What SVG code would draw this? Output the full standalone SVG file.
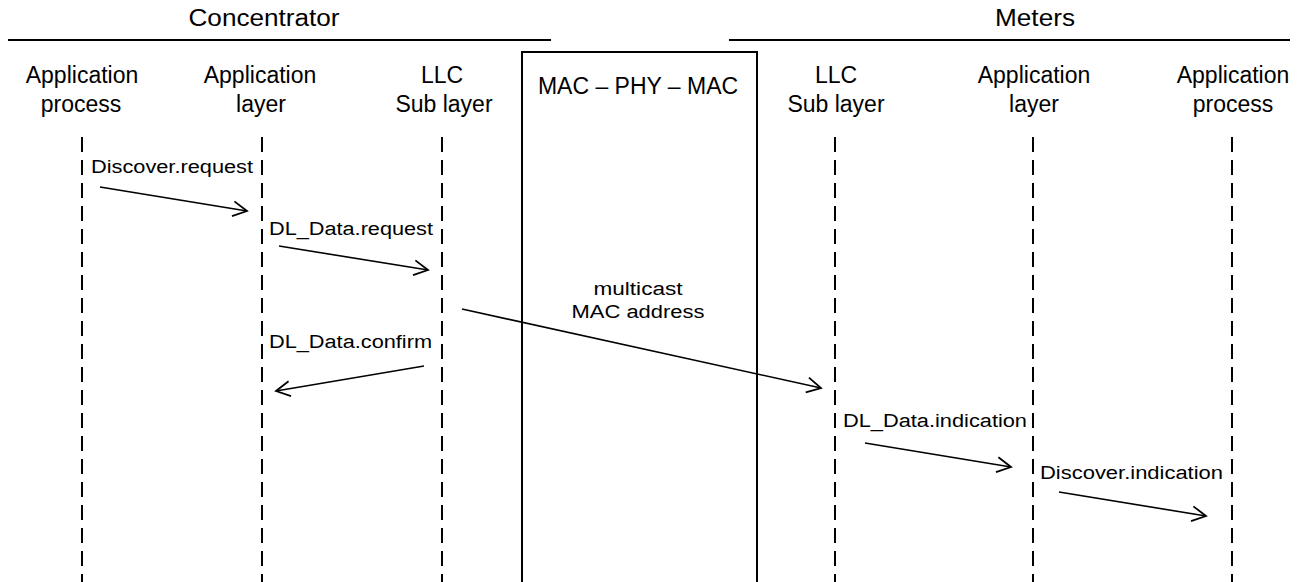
<svg xmlns="http://www.w3.org/2000/svg" width="1298" height="582" viewBox="0 0 1298 582">
  <style>
    text { font-family: "Liberation Sans", Arial, sans-serif; fill: #000; }
    .hdr { font-size: 23px; text-anchor: middle; }
    .lbl { font-size: 18px; }
    .ctr { text-anchor: middle; }
    .rule { stroke: #000; stroke-width: 2; fill: none; }
    .life { stroke: #000; stroke-width: 2; stroke-dasharray: 15 8; fill: none; }
    .msg { stroke: #000; stroke-width: 1.6; fill: none; marker-end: url(#open); }
  </style>
  <defs>
    <marker id="open" markerWidth="18" markerHeight="18" refX="15" refY="9" orient="auto" markerUnits="userSpaceOnUse">
      <path d="M1,1.5 L15,9 L1,16.5" fill="none" stroke="#000" stroke-width="1.8"/>
    </marker>
  </defs>

  <rect width="1298" height="582" fill="#fff"/>

  <!-- group headings -->
  <g id="concentrator">
    <text class="hdr" x="264" y="26" textLength="151" lengthAdjust="spacingAndGlyphs">Concentrator</text>
    <line class="rule" x1="8" y1="40" x2="551" y2="40"/>
  </g>
  <g id="meters">
    <text class="hdr" x="1035" y="26" textLength="80" lengthAdjust="spacingAndGlyphs">Meters</text>
    <line class="rule" x1="729" y1="40" x2="1290" y2="40"/>
  </g>

  <!-- medium -->
  <g id="mac-phy-mac">
    <rect x="522" y="52" width="235" height="540" fill="none" stroke="#000" stroke-width="2"/>
    <text class="hdr" x="638" y="94">MAC – PHY – MAC</text>
  </g>

  <!-- lifelines -->
  <g id="c-app-process">
    <text class="hdr" x="82" y="83">Application</text>
    <text class="hdr" x="81" y="112">process</text>
    <line class="life" x1="82" y1="137" x2="82" y2="582"/>
  </g>
  <g id="c-app-layer">
    <text class="hdr" x="260" y="83">Application</text>
    <text class="hdr" x="261" y="112">layer</text>
    <line class="life" x1="262" y1="137" x2="262" y2="582"/>
  </g>
  <g id="c-llc">
    <text class="hdr" x="442" y="83">LLC</text>
    <text class="hdr" x="444" y="112">Sub layer</text>
    <line class="life" x1="442" y1="137" x2="442" y2="582"/>
  </g>
  <g id="m-llc">
    <text class="hdr" x="836" y="83">LLC</text>
    <text class="hdr" x="836" y="112">Sub layer</text>
    <line class="life" x1="835" y1="137" x2="835" y2="582"/>
  </g>
  <g id="m-app-layer">
    <text class="hdr" x="1034" y="83">Application</text>
    <text class="hdr" x="1034" y="112">layer</text>
    <line class="life" x1="1033" y1="137" x2="1033" y2="582"/>
  </g>
  <g id="m-app-process">
    <text class="hdr" x="1233" y="83">Application</text>
    <text class="hdr" x="1233" y="112">process</text>
    <line class="life" x1="1232" y1="137" x2="1232" y2="582"/>
  </g>

  <!-- messages -->
  <g id="connectors">
    <line class="msg" x1="100" y1="187" x2="247" y2="211"/>
    <line class="msg" x1="279" y1="246" x2="428" y2="270"/>
    <line class="msg" x1="462" y1="309" x2="821" y2="388"/>
    <line class="msg" x1="424" y1="366" x2="276" y2="391"/>
    <line class="msg" x1="865" y1="443" x2="1011" y2="467"/>
    <line class="msg" x1="1059" y1="492" x2="1206" y2="516"/>
  </g>

  <!-- message labels -->
  <g id="labels">
    <text class="lbl" x="91" y="173" textLength="162" lengthAdjust="spacingAndGlyphs">Discover.request</text>
    <text class="lbl" x="269" y="235" textLength="164" lengthAdjust="spacingAndGlyphs">DL_Data.request</text>
    <text class="lbl ctr" x="638" y="295" textLength="89" lengthAdjust="spacingAndGlyphs">multicast</text>
    <text class="lbl ctr" x="638" y="318" textLength="133" lengthAdjust="spacingAndGlyphs">MAC address</text>
    <text class="lbl" x="269" y="348" textLength="163" lengthAdjust="spacingAndGlyphs">DL_Data.confirm</text>
    <text class="lbl" x="843" y="427" textLength="184" lengthAdjust="spacingAndGlyphs">DL_Data.indication</text>
    <text class="lbl" x="1040" y="479" textLength="183" lengthAdjust="spacingAndGlyphs">Discover.indication</text>
  </g>
</svg>
